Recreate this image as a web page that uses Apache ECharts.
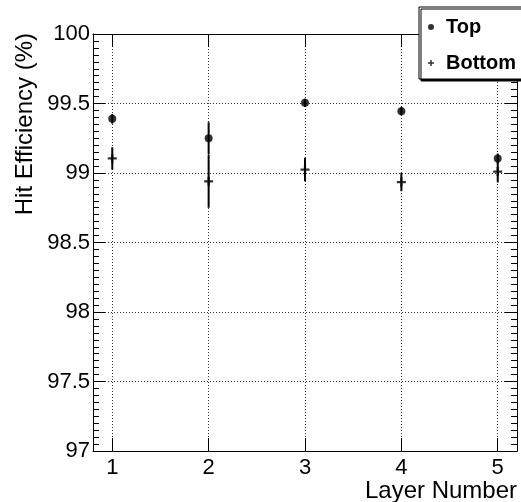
<!DOCTYPE html>
<html>
<head>
<meta charset="utf-8">
<script src="https://cdn.jsdelivr.net/npm/echarts@6/dist/echarts.min.js"></script>
<style>html,body{margin:0;padding:0;background:#fff}#c{width:521px;height:502px}</style>
</head>
<body>
<div id="c"></div>
<script>
const layers = [1, 2, 3, 4, 5];
const topEff = [99.39, 99.25, 99.505, 99.445, 99.105];
const topErr = [0.035, 0.115, 0.03, 0.03, 0.035];
const botEff = [99.105, 98.94, 99.025, 98.935, 99.01];
const botErr = [0.08, 0.19, 0.085, 0.066, 0.078];
const seriesNames = ['Top', 'Bottom'];
const xTitle = 'Layer Number';
const yTitle = 'Hit Efficiency (%)';

const FONT = 'Liberation Sans, Arial, Helvetica, sans-serif';
const plusPath = 'path://M3,0h2v3h3v2h-3v3h-2v-3h-3v-2h3z';

function errData(vals, errs) {
  return layers.map((x, i) => [x, vals[i] - errs[i], vals[i] + errs[i]]);
}
function errRender(params, api) {
  const p1 = api.coord([api.value(0), api.value(1)]);
  const p2 = api.coord([api.value(0), api.value(2)]);
  return {
    type: 'line',
    shape: {x1: p1[0], y1: p1[1], x2: p2[0], y2: p2[1]},
    style: {stroke: '#000', lineWidth: 2}
  };
}

const dotted = {show: true, lineStyle: {color: '#333', width: 1, type: [1, 2]}};
const xCommon = {
  type: 'value', min: 0.8, max: 5.2, splitNumber: 5,
  axisLine: {show: true, onZero: false, lineStyle: {color: '#000', width: 1}},
  axisTick: {show: true, inside: true, length: 13, lineStyle: {color: '#000', width: 1}},
  minorTick: {show: false}
};
const yCommon = {
  type: 'value', min: 97, max: 100, interval: 0.5,
  axisLine: {show: true, onZero: false, lineStyle: {color: '#000', width: 1}},
  axisTick: {show: true, inside: true, length: 12, lineStyle: {color: '#000', width: 1}},
  minorTick: {show: true, splitNumber: 10, length: 6, lineStyle: {color: '#000', width: 1}}
};

const chart = echarts.init(document.getElementById('c'), null, {renderer: 'canvas'});
chart.setOption({
  animation: false,
  backgroundColor: '#fff',
  grid: {left: 93, right: 4, top: 34, bottom: 51, containLabel: false},
  xAxis: [
    Object.assign({}, xCommon, {
      position: 'bottom',
      axisLabel: {show: true, color: '#000', fontSize: 22, fontFamily: FONT, margin: 6,
                  showMinLabel: false, showMaxLabel: false},
      splitLine: dotted
    }),
    Object.assign({}, xCommon, {
      position: 'top',
      axisLabel: {show: false},
      splitLine: {show: false}
    })
  ],
  yAxis: [
    Object.assign({}, yCommon, {
      position: 'left',
      axisLabel: {show: true, color: '#000', fontSize: 22, fontFamily: FONT, margin: 3},
      splitLine: dotted
    }),
    Object.assign({}, yCommon, {
      position: 'right',
      axisLabel: {show: false},
      splitLine: {show: false}
    })
  ],
  legend: {
    show: true,
    orient: 'vertical',
    left: 419, top: 7,
    padding: [10, 10, 6, 9],
    itemGap: 16,
    itemWidth: 20, itemHeight: 6,
    backgroundColor: '#fff',
    borderColor: '#000', borderWidth: 1,
    shadowColor: '#000', shadowBlur: 0, shadowOffsetX: 2, shadowOffsetY: 2,
    textStyle: {color: '#000', fontSize: 20, fontWeight: 'bold', fontFamily: FONT},
    data: [
      {name: seriesNames[0], icon: 'circle'},
      {name: seriesNames[1], icon: plusPath}
    ]
  },
  series: [
    {
      type: 'custom', name: seriesNames[0] + ' err', xAxisIndex: 0, yAxisIndex: 0,
      renderItem: errRender, data: errData(topEff, topErr), silent: true, z: 3
    },
    {
      type: 'custom', name: seriesNames[1] + ' err', xAxisIndex: 0, yAxisIndex: 0,
      renderItem: errRender, data: errData(botEff, botErr), silent: true, z: 3
    },
    {
      type: 'scatter', name: seriesNames[0], xAxisIndex: 0, yAxisIndex: 0,
      symbol: 'circle', symbolSize: 8,
      itemStyle: {color: '#000'},
      data: layers.map((x, i) => [x, topEff[i]]), z: 4
    },
    {
      type: 'scatter', name: seriesNames[1], xAxisIndex: 0, yAxisIndex: 0,
      symbol: plusPath, symbolSize: 9,
      itemStyle: {color: '#000'},
      data: layers.map((x, i) => [x, botEff[i]]), z: 4
    }
  ],
  graphic: [
    {
      type: 'text', x: 517, y: 491,
      style: {text: xTitle, fill: '#000', font: '24px ' + FONT, textAlign: 'right', textVerticalAlign: 'middle'}
    },
    {
      type: 'text', x: 25, y: 33, rotation: Math.PI / 2,
      style: {text: yTitle, fill: '#000', font: '24px ' + FONT, textAlign: 'right', textVerticalAlign: 'middle'}
    }
  ]
});
</script>
</body>
</html>
